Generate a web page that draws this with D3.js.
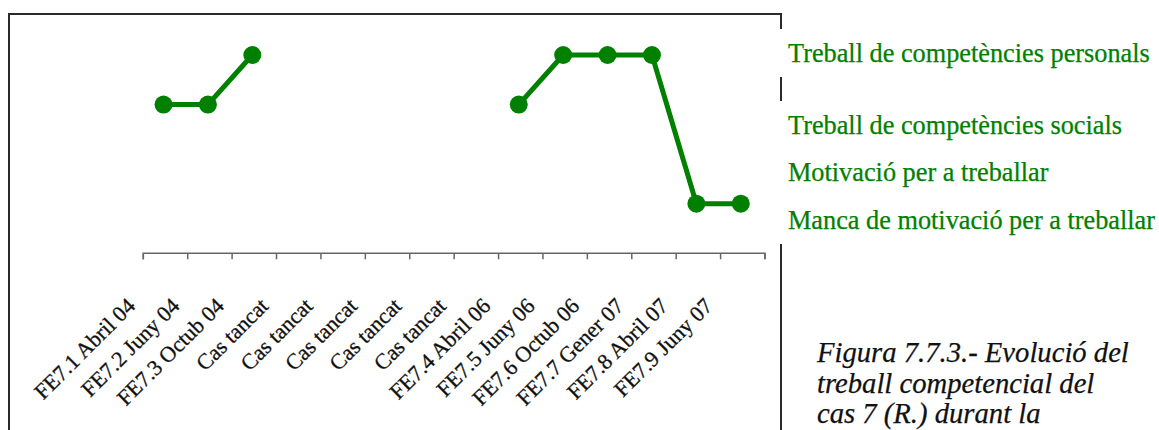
<!DOCTYPE html>
<html>
<head>
<meta charset="utf-8">
<script src="https://cdn.jsdelivr.net/npm/d3@7"></script>
<style>
  html, body { margin: 0; padding: 0; background: #fff; }
  svg { display: block; }
</style>
</head>
<body>
<svg id="chart" width="1159" height="430"></svg>
<script>
// ---- data ----
const categories = [
  "FE7.1 Abril 04", "FE7.2 Juny 04", "FE7.3 Octub 04",
  "Cas tancat", "Cas tancat", "Cas tancat", "Cas tancat", "Cas tancat",
  "FE7.4 Abril 06", "FE7.5 Juny 06", "FE7.6 Octub 06",
  "FE7.7 Gener 07", "FE7.8 Abril 07", "FE7.9 Juny 07"
];
// levels: 1 = Manca de motivació, 2 = Motivació, 3 = Competències socials, 4 = Competències personals
const values = [3, 3, 4, null, null, null, null, null, 3, 4, 4, 4, 1, 1];
const levelLabels = [
  "Treball de competències personals",
  "Treball de competències socials",
  "Motivació per a treballar",
  "Manca de motivació per a treballar"
];
const captionLines = [
  "Figura 7.7.3.- Evolució del",
  "treball competencial del",
  "cas 7 (R.) durant la"
];

// ---- layout ----
const green = "#008000";
const svg = d3.select("#chart");
const serif = "'Liberation Serif', 'Times New Roman', serif";

function fitSize(sel, target) {
  const w = sel.node().getComputedTextLength();
  const fs = parseFloat(sel.attr("font-size"));
  return fs * target / w;
}

// frame
svg.append("path")
  .attr("d", "M9,440 L9,14 L781,14 L781,440")
  .attr("fill", "none").attr("stroke", "#2a2a2a").attr("stroke-width", 2);

const idx = d3.range(categories.length);
const x = d3.scaleBand().domain(idx).range([143.3, 765]).padding(0);
const y = d3.scaleLinear().domain([0, 4]).range([253.3, 55]);
const cx = i => x(i) + x.bandwidth() / 2 - 2;

// x axis
const gx = svg.append("g").attr("transform", `translate(0,${y(0)})`)
  .call(d3.axisBottom(x).tickSize(6).tickFormat(""));
gx.selectAll(".tick").remove();
const bounds = d3.range(categories.length + 1).map(i => x.range()[0] + i * x.bandwidth());
gx.select(".domain")
  .attr("stroke", "#666").attr("stroke-width", 1.5)
  .attr("d", `M${bounds[0]},6V0H${bounds[bounds.length - 1]}V6`);
gx.selectAll("line.b").data(bounds).join("line")
  .attr("class", "b")
  .attr("x1", d => d).attr("x2", d => d)
  .attr("y1", 0).attr("y2", 6)
  .attr("stroke", "#666").attr("stroke-width", 1.5);

// tick labels
const probe = svg.append("text").attr("font-family", serif).attr("font-size", 20).text(categories[0]);
const tickFs = fitSize(probe, 132);
probe.remove();
svg.append("g").selectAll("text").data(idx).join("text")
  .attr("font-family", serif)
  .attr("font-size", tickFs)
  .attr("fill", "#111")
  .attr("stroke", "#111").attr("stroke-width", 0.3)
  .attr("text-anchor", "end")
  .attr("transform", i => `translate(${cx(i) - 27},${y(0) + 54}) rotate(-45)`)
  .text(i => categories[i]);

// line + markers
const line = d3.line()
  .defined(i => values[i] != null)
  .x(i => cx(i))
  .y(i => y(values[i]));
svg.append("path")
  .datum(idx)
  .attr("d", line)
  .attr("fill", "none")
  .attr("stroke", green)
  .attr("stroke-width", 5)
  .attr("stroke-linejoin", "round");
svg.append("g").selectAll("circle")
  .data(idx.filter(i => values[i] != null))
  .join("circle")
  .attr("cx", i => cx(i))
  .attr("cy", i => y(values[i]))
  .attr("r", 9)
  .attr("fill", green);

// level labels (text boxes with white background, on the right)
const labelCenters = [53, 125, 172.5, 220];
const lg = svg.append("g");
lg.selectAll("rect").data(labelCenters).join("rect")
  .attr("x", 776).attr("y", d => d - 24)
  .attr("width", 383).attr("height", 48)
  .attr("fill", "#fff");
const probe2 = svg.append("text").attr("font-family", serif).attr("font-size", 20).text(levelLabels[0]);
const labFs = fitSize(probe2, 362);
probe2.remove();
lg.selectAll("text").data(levelLabels).join("text")
  .attr("x", 788)
  .attr("y", (d, i) => labelCenters[i] + labFs * 0.33)
  .attr("font-family", serif)
  .attr("font-size", labFs)
  .attr("fill", green)
  .attr("stroke", green).attr("stroke-width", 0.25)
  .text(d => d);

// caption
const probe3 = svg.append("text").attr("font-family", serif).attr("font-style", "italic")
  .attr("font-size", 20).text(captionLines[0]);
const capFs = fitSize(probe3, 312);
probe3.remove();
svg.append("g").selectAll("text").data(captionLines).join("text")
  .attr("x", 817)
  .attr("y", (d, i) => 362 + i * 30.7)
  .attr("font-family", serif)
  .attr("font-style", "italic")
  .attr("font-size", capFs)
  .attr("fill", "#111")
  .attr("stroke", "#111").attr("stroke-width", 0.25)
  .text(d => d);
</script>
</body>
</html>
